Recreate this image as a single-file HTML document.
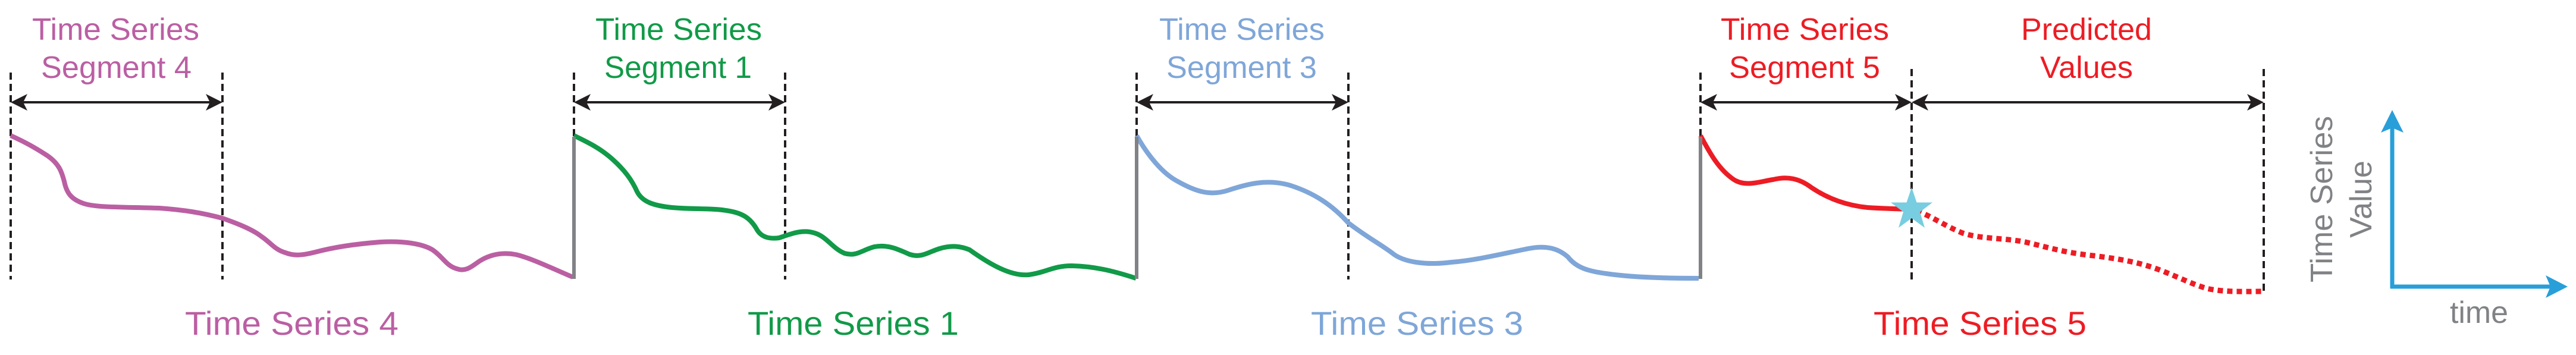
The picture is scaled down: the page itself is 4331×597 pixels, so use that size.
<!DOCTYPE html>
<html><head><meta charset="utf-8"><style>html,body{margin:0;padding:0;background:#fff}svg{display:block}</style></head>
<body>
<svg width="4331" height="597" viewBox="0 0 4331 597" xmlns="http://www.w3.org/2000/svg" font-family="Liberation Sans, Arial, sans-serif">
<defs>
<path id="ah" d="M0,0 L28,-14 L21,0 L28,14 Z" fill="#231f20"/>
</defs>
<g stroke="#231f20" stroke-width="4" stroke-dasharray="12,7" fill="none">
<line x1="18" y1="122" x2="18" y2="470"/>
<line x1="374" y1="122" x2="374" y2="470"/>
<line x1="965" y1="122" x2="965" y2="230"/>
<line x1="1320" y1="122" x2="1320" y2="470"/>
<line x1="1911" y1="122" x2="1911" y2="230"/>
<line x1="2267" y1="122" x2="2267" y2="470"/>
<line x1="2859" y1="122" x2="2859" y2="230"/>
<line x1="3214" y1="116" x2="3214" y2="470"/>
<line x1="3806" y1="116" x2="3806" y2="490"/>
</g>
<g stroke="#231f20" stroke-width="4">
<line x1="30" y1="172" x2="362" y2="172"/>
<line x1="977" y1="172" x2="1308" y2="172"/>
<line x1="1923" y1="172" x2="2255" y2="172"/>
<line x1="2871" y1="172" x2="3202" y2="172"/>
<line x1="3226" y1="172" x2="3794" y2="172"/>
</g>
<use href="#ah" transform="translate(18,172)"/>
<use href="#ah" transform="translate(374,172) scale(-1,1)"/>
<use href="#ah" transform="translate(965,172)"/>
<use href="#ah" transform="translate(1320,172) scale(-1,1)"/>
<use href="#ah" transform="translate(1911,172)"/>
<use href="#ah" transform="translate(2267,172) scale(-1,1)"/>
<use href="#ah" transform="translate(2859,172)"/>
<use href="#ah" transform="translate(3214,172) scale(-1,1)"/>
<use href="#ah" transform="translate(3214,172)"/>
<use href="#ah" transform="translate(3806,172) scale(-1,1)"/>

<g fill="none" stroke-width="8" stroke-linecap="butt" stroke-linejoin="round">
<path stroke="#bb5fa3" d="M18,228 C40,238 57,247 80,262 C100,276 104,290 108,305 C112,325 120,335 140,342 C160,349 200,348 268,350 C310,353 340,358 374,367 C400,376 425,386 440,398 C455,408 462,420 480,425 C495,431 510,429 530,424 C560,416 600,410 640,407 C680,405 710,410 727,420 C745,432 750,447 768,452 C785,458 795,446 808,438 C825,428 845,424 867,428 C890,433 930,452 963,466"/>
<path stroke="#119a48" d="M965,228 C990,240 1010,250 1030,268 C1050,286 1062,302 1071,322 C1080,340 1100,346 1130,349 C1160,352 1200,350 1221,354 C1250,358 1262,368 1272,385 C1280,400 1295,402 1310,400 C1330,393 1350,385 1370,392 C1390,398 1400,418 1420,426 C1440,432 1450,420 1470,415 C1495,410 1515,422 1530,428 C1550,434 1560,424 1580,418 C1600,412 1615,414 1630,420 C1665,445 1700,465 1730,462 C1760,458 1770,447 1802,447 C1840,448 1870,455 1910,468"/>
<path stroke="#7fa6d8" d="M1911,228 C1930,262 1955,292 1980,305 C2010,322 2035,330 2065,320 C2095,310 2130,300 2170,312 C2210,325 2240,345 2267,375 C2300,400 2320,410 2340,425 C2360,442 2400,446 2440,441 C2480,438 2520,428 2570,418 C2600,412 2620,418 2636,432 C2650,450 2670,456 2700,460 C2740,466 2790,468 2856,468"/>
<path stroke="#ed1c24" d="M2859,228 C2875,258 2890,285 2915,302 C2935,315 2960,305 2981,302 C3005,296 3025,300 3045,315 C3070,332 3100,345 3140,349 C3170,351 3190,351 3214,352"/>
<path stroke="#ed1c24" stroke-width="9" stroke-dasharray="9,7" d="M3222,354 C3250,365 3270,380 3300,392 C3330,402 3370,400 3405,407 C3440,415 3470,425 3520,430 C3560,435 3590,440 3620,450 C3650,460 3680,476 3710,485 C3740,492 3780,490 3806,490"/>
</g>
<g stroke="#808285" stroke-width="6">
<line x1="965" y1="230" x2="965" y2="469"/>
<line x1="1911" y1="230" x2="1911" y2="469"/>
<line x1="2859" y1="230" x2="2859" y2="469"/>
</g>
<polygon fill="#78cde0" points="3214,315 3222.5,340.5 3249,340.5 3228,356.5 3236,383 3214,367 3192,383 3200,356.5 3179,340.5 3205.5,340.5"/>

<g font-size="52">
<g fill="#bb5fa3">
<text x="54" y="67" textLength="281" lengthAdjust="spacingAndGlyphs">Time Series</text>
<text x="69" y="131" textLength="253" lengthAdjust="spacingAndGlyphs">Segment 4</text>
<text x="311" y="563" font-size="56" textLength="359" lengthAdjust="spacingAndGlyphs">Time Series 4</text>
</g>
<g fill="#119a48">
<text x="1001" y="67" textLength="280" lengthAdjust="spacingAndGlyphs">Time Series</text>
<text x="1016" y="131" textLength="248" lengthAdjust="spacingAndGlyphs">Segment 1</text>
<text x="1257" y="563" font-size="56" textLength="355" lengthAdjust="spacingAndGlyphs">Time Series 1</text>
</g>
<g fill="#7fa6d8">
<text x="1949" y="67" textLength="278" lengthAdjust="spacingAndGlyphs">Time Series</text>
<text x="1961" y="131" textLength="253" lengthAdjust="spacingAndGlyphs">Segment 3</text>
<text x="2204" y="563" font-size="56" textLength="357" lengthAdjust="spacingAndGlyphs">Time Series 3</text>
</g>
<g fill="#ed1c24">
<text x="2893" y="67" textLength="283" lengthAdjust="spacingAndGlyphs">Time Series</text>
<text x="2907" y="131" textLength="254" lengthAdjust="spacingAndGlyphs">Segment 5</text>
<text x="3398" y="67" textLength="220" lengthAdjust="spacingAndGlyphs">Predicted</text>
<text x="3430" y="131" textLength="156" lengthAdjust="spacingAndGlyphs">Values</text>
<text x="3150" y="563" font-size="56" textLength="358" lengthAdjust="spacingAndGlyphs">Time Series 5</text>
</g>
<g fill="#808285">
<text transform="translate(3921,475) rotate(-90)" textLength="280" lengthAdjust="spacingAndGlyphs">Time Series</text>
<text transform="translate(3987,400) rotate(-90)" textLength="130" lengthAdjust="spacingAndGlyphs">Value</text>
<text x="4119" y="543" textLength="98" lengthAdjust="spacingAndGlyphs">time</text>
</g>
</g>
<g stroke="#289fd9" stroke-width="7" fill="none">
<line x1="4022" y1="485" x2="4022" y2="215"/>
<line x1="4019" y1="482" x2="4290" y2="482"/>
</g>
<polygon fill="#289fd9" points="4022,185 4041,223 4022,215 4003,223"/>
<polygon fill="#289fd9" points="4317,482 4280,501 4288,482 4280,463"/>
</svg>
</body></html>
